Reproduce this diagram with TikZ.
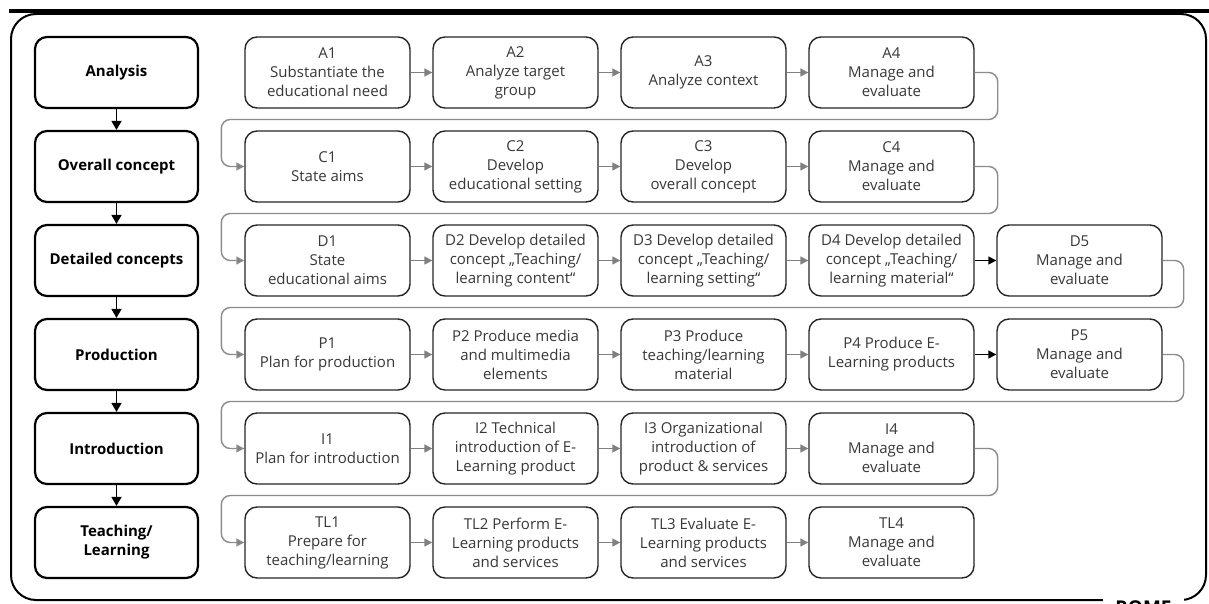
\documentclass[tikz,border=0pt]{standalone}
\usepackage{fontspec}
\setmainfont{Open Sans}
\usetikzlibrary{arrows.meta,calc}
\begin{document}
\begin{tikzpicture}[x=1pt,y=-1pt,
  phase/.style={draw=black, line width=2.2pt, rounded corners=12pt,
    minimum width=163pt, minimum height=71pt, inner sep=0pt, align=center,
    font=\fontsize{15}{19}\selectfont\bfseries},
  task/.style={draw=black!85, line width=1.4pt, rounded corners=12pt,
    minimum width=165pt, minimum height=71pt, inner sep=0pt, align=center,
    text=black!78, font=\fontsize{15}{19}\selectfont},
  flow/.style={draw=black!50, line width=1.5pt,
    -{Triangle[length=8pt,width=8pt]}},
  flowblack/.style={draw=black, line width=1.5pt,
    -{Triangle[length=8pt,width=8pt]}},
  wrap/.style={draw=black!45, line width=1.4pt, rounded corners=9pt,
    -{Triangle[length=8pt,width=8pt,fill=black!50]}},
  parrow/.style={draw=black, line width=1.5pt,
    -{Triangle[length=9pt,width=10pt]}}
]
\useasboundingbox (0,0) rectangle (1209,604);
\clip (0,0) rectangle (1209,604);
\fill[white] (0,0) rectangle (1209,604);

% outer frame and heavy top rule
\draw[line width=2pt, rounded corners=25pt] (11,14) rectangle (1206,600);
\fill[black] (9,9) rectangle (1209,13.5);
\node[font=\fontsize{19}{19}\selectfont\bfseries, fill=white, inner xsep=12pt,
  inner ysep=3pt, anchor=north] (rome) at (1143.5,598) {ROME};

% phases
\node[phase] (pA) at (116.5,72.5)  {Analysis};
\node[phase] (pC) at (116.5,166.5) {Overall concept};
\node[phase] (pD) at (116.5,260.5) {Detailed concepts};
\node[phase] (pP) at (116.5,354.5) {Production};
\node[phase] (pI) at (116.5,448.5) {Introduction};
\node[phase] (pT) at (116.5,542.5) {Teaching/\\Learning};
\foreach \a/\b in {pA/pC,pC/pD,pD/pP,pP/pI,pI/pT}
  \draw[parrow] (\a) -- (\b);

% analysis
\node[task] (A1) at (327.5,72.5) {A1\\Substantiate the\\educational need};
\node[task] (A2) at (515.5,72.5) {A2\\Analyze target\\group};
\node[task] (A3) at (703.5,72.5) {A3\\Analyze context};
\node[task] (A4) at (891.5,72.5) {A4\\Manage and\\evaluate};

% overall concept
\node[task] (C1) at (327.5,166.5) {C1\\State aims};
\node[task] (C2) at (515.5,166.5) {C2\\Develop\\educational setting};
\node[task] (C3) at (703.5,166.5) {C3\\Develop\\overall concept};
\node[task] (C4) at (891.5,166.5) {C4\\Manage and\\evaluate};

% detailed concepts
\node[task] (D1) at (327.5,260.5) {D1\\State\\educational aims};
\node[task] (D2) at (515.5,260.5) {D2 Develop detailed\\concept „Teaching/\\learning content“};
\node[task] (D3) at (703.5,260.5) {D3 Develop detailed\\concept „Teaching/\\learning setting“};
\node[task] (D4) at (891.5,260.5) {D4 Develop detailed\\concept „Teaching/\\learning material“};
\node[task] (D5) at (1079.5,260.5) {D5\\Manage and\\evaluate};

% production
\node[task] (P1) at (327.5,354.5) {P1\\Plan for production};
\node[task] (P2) at (515.5,354.5) {P2 Produce media\\and multimedia\\elements};
\node[task] (P3) at (703.5,354.5) {P3 Produce\\teaching/learning\\material};
\node[task] (P4) at (891.5,354.5) {P4 Produce E-\\Learning products};
\node[task] (P5) at (1079.5,354.5) {P5\\Manage and\\evaluate};

% introduction
\node[task] (I1) at (327.5,448.5) {I1\\Plan for introduction};
\node[task] (I2) at (515.5,448.5) {I2 Technical\\introduction of E-\\Learning product};
\node[task] (I3) at (703.5,448.5) {I3 Organizational\\introduction of\\product \& services};
\node[task] (I4) at (891.5,448.5) {I4\\Manage and\\evaluate};

% teaching / learning
\node[task] (T1) at (327.5,542.5) {TL1\\Prepare for\\teaching/learning};
\node[task] (T2) at (515.5,542.5) {TL2 Perform E-\\Learning products\\and services};
\node[task] (T3) at (703.5,542.5) {TL3 Evaluate E-\\Learning products\\and services};
\node[task] (T4) at (891.5,542.5) {TL4\\Manage and\\evaluate};

% arrows within rows
\foreach \a/\b in {A1/A2,A2/A3,A3/A4,C1/C2,C2/C3,C3/C4,D1/D2,D2/D3,D3/D4,
                   P1/P2,P2/P3,P3/P4,I1/I2,I2/I3,I3/I4,T1/T2,T2/T3,T3/T4}
  \draw[flow] (\a) -- (\b);
\draw[flowblack] (D4) -- (D5);
\draw[flowblack] (P4) -- (P5);

% wrap-around connectors to the next row
\draw[wrap] (A4.east) -- ++(23,0) |- ($(C1.west)+(-23,-47)$) |- (C1.west);
\draw[wrap] (C4.east) -- ++(23,0) |- ($(D1.west)+(-23,-47)$) |- (D1.west);
\draw[wrap] (D5.east) -- ++(21,0) |- ($(P1.west)+(-23,-47)$) |- (P1.west);
\draw[wrap] (P5.east) -- ++(21,0) |- ($(I1.west)+(-23,-47)$) |- (I1.west);
\draw[wrap] (I4.east) -- ++(23,0) |- ($(T1.west)+(-23,-47)$) |- (T1.west);
\end{tikzpicture}
\end{document}
